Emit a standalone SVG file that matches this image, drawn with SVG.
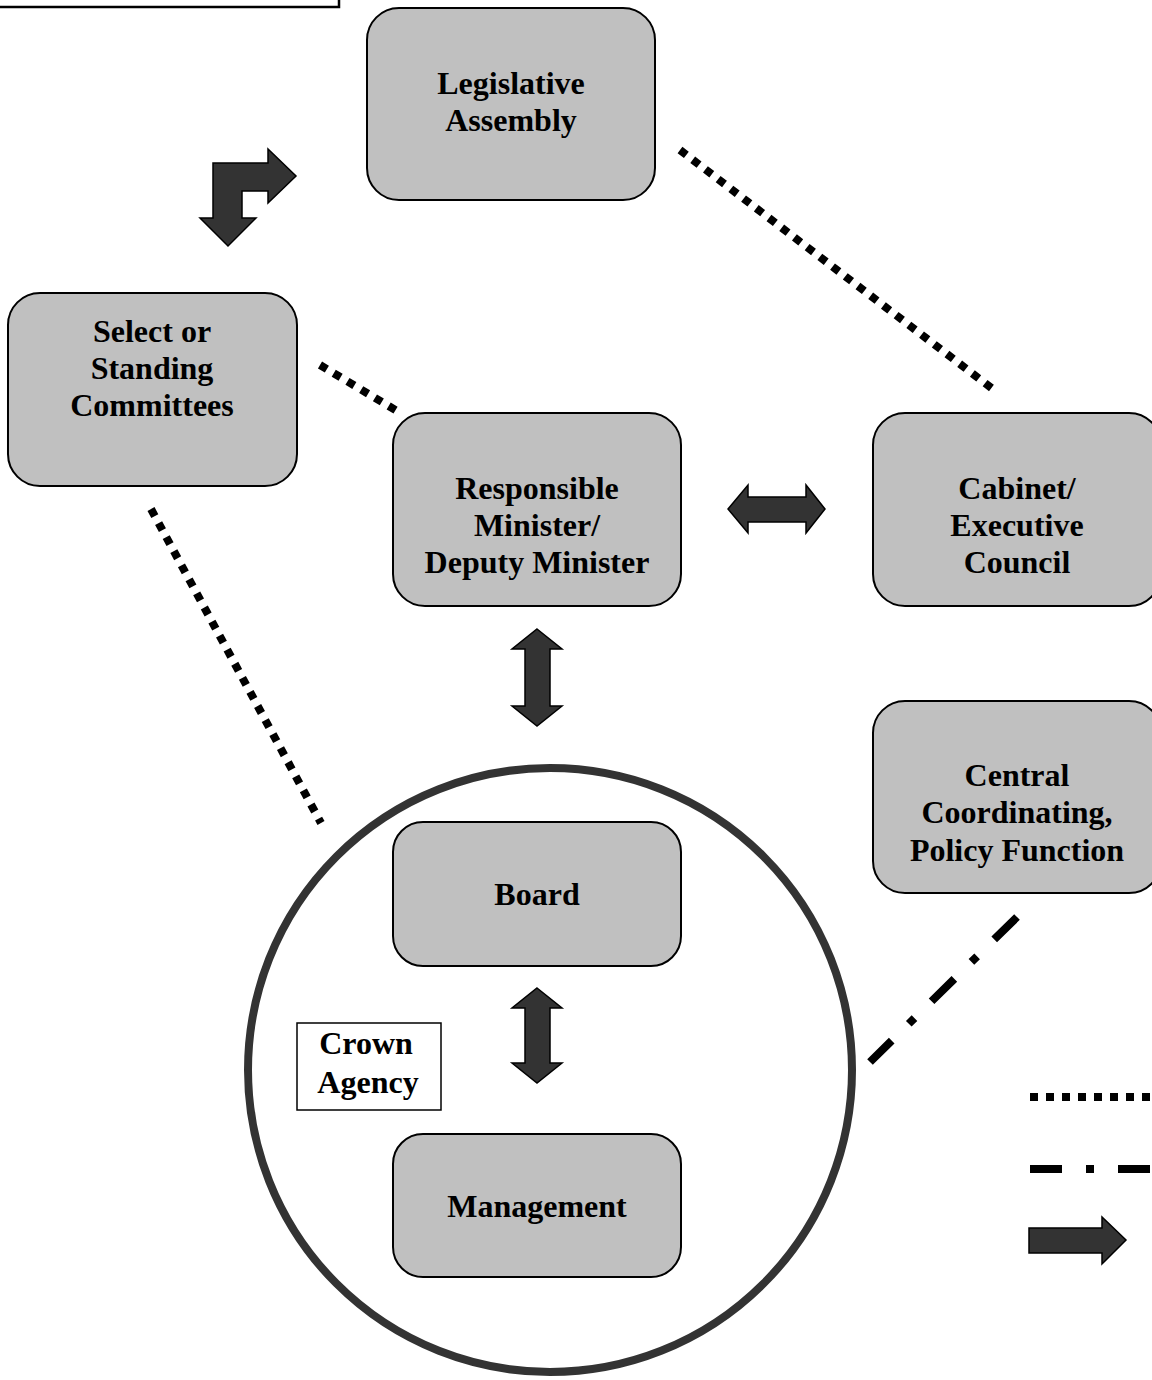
<svg xmlns="http://www.w3.org/2000/svg" width="1152" height="1380" viewBox="0 0 1152 1380">
<style>
.node rect{fill:#c0c0c0;stroke:#000;stroke-width:2}
.lbl{font-family:"Liberation Serif","Times New Roman",serif;font-weight:bold;font-size:32px;fill:#000;text-anchor:middle}
.arrow{fill:#333;stroke:#000;stroke-width:1.5;stroke-linejoin:miter}
.dot{fill:none;stroke:#000;stroke-width:8;stroke-dasharray:8 8}
.dashdot{fill:none;stroke:#000;stroke-width:8;stroke-dasharray:32 24 8 24}
</style>
<rect width="1152" height="1380" fill="#fff"/>
<rect x="-4" y="-10" width="343" height="17" fill="#fff" stroke="#000" stroke-width="2.5"/>

<g id="crown-agency-circle">
<circle cx="550" cy="1070" r="302" fill="none" stroke="#333" stroke-width="8"/>
</g>

<g id="connectors">
<path class="dot" d="M680,150 L994,390"/>
<path class="dot" d="M320,365 L397,411"/>
<path class="dot" d="M151,509 L321,823"/>
<path class="dashdot" d="M1017,917 L870,1062"/>
<path class="arrow" d="M213,163 L268,163 L268,149 L296,176 L268,203 L268,191 L242,191 L242,218 L256,218 L228,246 L200,218 L213,218 Z"/>
<path class="arrow" d="M728,509 L748,485 L748,497 L806,497 L806,485 L825,509 L806,533 L806,522 L748,522 L748,533 Z"/>
<path class="arrow" d="M537,629 L562,649 L550,649 L550,706 L562,706 L537,726 L512,706 L525,706 L525,649 L512,649 Z"/>
<path class="arrow" d="M537,988 L562,1008 L550,1008 L550,1063 L562,1063 L537,1083 L512,1063 L525,1063 L525,1008 L512,1008 Z"/>
</g>

<g id="legislative-assembly" class="node">
<rect x="367" y="8" width="288" height="192" rx="32"/>
<text class="lbl" x="511" y="94">Legislative</text>
<text class="lbl" x="511" y="131">Assembly</text>
</g>
<g id="committees" class="node">
<rect x="8" y="293" width="289" height="193" rx="32"/>
<text class="lbl" x="152" y="342">Select or</text>
<text class="lbl" x="152" y="379">Standing</text>
<text class="lbl" x="152" y="416">Committees</text>
</g>
<g id="minister" class="node">
<rect x="393" y="413" width="288" height="193" rx="32"/>
<text class="lbl" x="537" y="499">Responsible</text>
<text class="lbl" x="537" y="536">Minister/</text>
<text class="lbl" x="537" y="573">Deputy Minister</text>
</g>
<g id="cabinet" class="node">
<rect x="873" y="413" width="288" height="193" rx="32"/>
<text class="lbl" x="1017" y="499">Cabinet/</text>
<text class="lbl" x="1017" y="536">Executive</text>
<text class="lbl" x="1017" y="573">Council</text>
</g>
<g id="central" class="node">
<rect x="873" y="701" width="288" height="192" rx="32"/>
<text class="lbl" x="1017" y="786">Central</text>
<text class="lbl" x="1017" y="823">Coordinating,</text>
<text class="lbl" x="1017" y="861">Policy Function</text>
</g>
<g id="board" class="node">
<rect x="393" y="822" width="288" height="144" rx="30"/>
<text class="lbl" x="537" y="905">Board</text>
</g>
<g id="management" class="node">
<rect x="393" y="1134" width="288" height="143" rx="30"/>
<text class="lbl" x="537" y="1217">Management</text>
</g>
<g id="crown-agency-label">
<rect x="297" y="1023" width="144" height="87" fill="#fff" stroke="#000" stroke-width="1.5"/>
<text class="lbl" x="366" y="1054">Crown</text>
<text class="lbl" x="368" y="1093">Agency</text>
</g>

<g id="legend">
<path class="dot" d="M1030,1097 L1152,1097"/>
<path class="dashdot" d="M1030,1169 L1160,1169"/>
<path class="arrow" d="M1029,1228 L1102,1228 L1102,1217 L1126,1240 L1102,1264 L1102,1253 L1029,1253 Z"/>
</g>
</svg>
